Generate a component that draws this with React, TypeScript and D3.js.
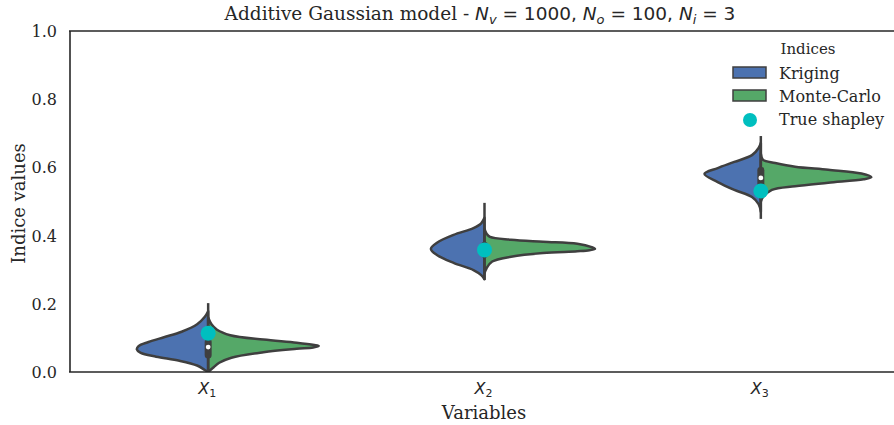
import React from "react";
import * as d3 from "d3";

// ---- data ----
const categories = ["1", "2", "3"];
const seriesNames = ["Kriging", "Monte-Carlo"];
const yTicks = [0, 0.2, 0.4, 0.6, 0.8, 1.0];

// density profiles: [value, relative half-width]
const krigingX1: [number, number][] = [[0.178, 0], [0.162, 0.03], [0.14, 0.1], [0.118, 0.24], [0.102, 0.4], [0.088, 0.54], [0.076, 0.63], [0.066, 0.645], [0.056, 0.61], [0.045, 0.47], [0.033, 0.26], [0.019, 0.1], [0.006, 0.03], [0, 0.0]];
const krigingX2: [number, number][] = [[0.452, 0], [0.436, 0.03], [0.422, 0.1], [0.402, 0.28], [0.379, 0.43], [0.361, 0.485], [0.343, 0.43], [0.32, 0.28], [0.299, 0.1], [0.284, 0.03], [0.272, 0]];
const krigingX3: [number, number][] = [[0.672, 0], [0.657, 0.02], [0.636, 0.08], [0.616, 0.24], [0.598, 0.39], [0.581, 0.51], [0.557, 0.39], [0.534, 0.24], [0.513, 0.08], [0.492, 0.02], [0.47, 0]];
const monteCarloX1: [number, number][] = [[0.16, 0], [0.14, 0.03], [0.124, 0.08], [0.108, 0.2], [0.095, 0.5], [0.086, 0.8], [0.079, 0.96], [0.076, 1.0], [0.072, 0.95], [0.068, 0.8], [0.058, 0.5], [0.042, 0.21], [0.027, 0.1], [0.014, 0.05], [0.003, 0.01], [0, 0]];
const monteCarloX2: [number, number][] = [[0.42, 0], [0.405, 0.02], [0.396, 0.05], [0.388, 0.24], [0.382, 0.53], [0.376, 0.84], [0.366, 0.97], [0.361, 1.0], [0.357, 0.95], [0.354, 0.84], [0.349, 0.53], [0.338, 0.24], [0.324, 0.07], [0.305, 0.02], [0.29, 0]];
const monteCarloX3: [number, number][] = [[0.64, 0], [0.622, 0.02], [0.613, 0.13], [0.602, 0.31], [0.593, 0.61], [0.582, 0.91], [0.571, 1.0], [0.565, 0.93], [0.555, 0.61], [0.545, 0.31], [0.534, 0.1], [0.513, 0.02], [0.5, 0]];

const whiskerLow = [0.0, 0.27, 0.449];
const whiskerHigh = [0.202, 0.496, 0.692];
const boxLow = [0.05, 0.345, 0.543];
const boxHigh = [0.088, 0.372, 0.592];
const medians = [0.073, 0.358, 0.569];
const trueShapley = [0.114, 0.358, 0.531];

const W = 894;
const H = 425;
const BLUE = "#4C72B0";
const GREEN = "#55A868";
const CYAN = "#00BFBF";
const EDGE = "#3f3f3f";
const TEXT = "#262626";
const SERIF = "DejaVu Serif";
const SANS = "DejaVu Sans";

export default function App() {
  const x = d3.scaleBand<string>().domain(categories).range([70, 899]).padding(0);
  const y = d3.scaleLinear().domain([0, 1]).range([372, 31]);
  const half = (x.bandwidth() * 0.8) / 2;
  const wScale = d3.scaleLinear().domain([0, 1]).range([0, half]);

  const kriging = [krigingX1, krigingX2, krigingX3];
  const monteCarlo = [monteCarloX1, monteCarloX2, monteCarloX3];

  const makeArea = (cx: number, dir: number) =>
    d3
      .area<[number, number]>()
      .y((d) => y(d[0]))
      .x0(() => cx)
      .x1((d) => cx + dir * wScale(d[1]))
      .curve(d3.curveCatmullRom.alpha(0.5));

  const center = (c: string) => (x(c) as number) + x.bandwidth() / 2;
  const subFs = 13;

  return (
    <svg width={W} height={H} style={{ display: "block", position: "absolute", left: 0, top: 0 }}>
      <rect x={0} y={0} width={W} height={H} fill="#fff" />
      <defs>
        <clipPath id="plotclip">
          <rect x={70} y={31} width={829} height={341} />
        </clipPath>
      </defs>

      {/* title */}
      <text x={480} y={20} textAnchor="middle" fontSize={18.5} fill={TEXT} fontFamily={SERIF}>
        <tspan>Additive Gaussian model - </tspan>
        <tspan fontFamily={SANS} fontStyle="italic">N</tspan>
        <tspan fontFamily={SANS} fontStyle="italic" fontSize={subFs} dy={3.5}>v</tspan>
        <tspan fontFamily={SANS} dy={-3.5}> = 1000, </tspan>
        <tspan fontFamily={SANS} fontStyle="italic">N</tspan>
        <tspan fontFamily={SANS} fontStyle="italic" fontSize={subFs} dy={3.5}>o</tspan>
        <tspan fontFamily={SANS} dy={-3.5}> = 100, </tspan>
        <tspan fontFamily={SANS} fontStyle="italic">N</tspan>
        <tspan fontFamily={SANS} fontStyle="italic" fontSize={subFs} dy={3.5}>i</tspan>
        <tspan fontFamily={SANS} dy={-3.5}> = 3</tspan>
      </text>

      {/* violins */}
      <g clipPath="url(#plotclip)">
        {categories.map((c, i) => {
          const cx = center(c);
          return (
            <g key={c}>
              <path d={makeArea(cx, -1)(kriging[i]) || ""} fill={BLUE} stroke={EDGE} strokeWidth={2.5} strokeLinejoin="round" />
              <path d={makeArea(cx, 1)(monteCarlo[i]) || ""} fill={GREEN} stroke={EDGE} strokeWidth={2.5} strokeLinejoin="round" />
              <line x1={cx} x2={cx} y1={y(whiskerLow[i])} y2={y(whiskerHigh[i])} stroke={EDGE} strokeWidth={2.5} />
              <line x1={cx} x2={cx} y1={y(boxLow[i])} y2={y(boxHigh[i])} stroke={EDGE} strokeWidth={7} strokeLinecap="round" />
              <circle cx={cx} cy={y(medians[i])} r={2.4} fill="#fff" />
            </g>
          );
        })}
        {categories.map((c, i) => (
          <circle key={"ts" + c} cx={center(c)} cy={y(trueShapley[i])} r={7.5} fill={CYAN} />
        ))}
      </g>

      {/* spines */}
      <line x1={70} x2={70} y1={31} y2={372} stroke={TEXT} strokeWidth={1.6} />
      <line x1={69} x2={899} y1={372} y2={372} stroke={TEXT} strokeWidth={1.6} />
      <line x1={69} x2={899} y1={31} y2={31} stroke={TEXT} strokeWidth={1.6} />

      {/* y ticks */}
      {yTicks.map((t) => (
        <text key={t} x={57} y={y(t) + 6} textAnchor="end" fontSize={16} fill={TEXT} fontFamily={SERIF}>
          {t.toFixed(1)}
        </text>
      ))}
      <text transform={`translate(25,${y(0.5) + 2}) rotate(-90)`} textAnchor="middle" fontSize={18} fill={TEXT} fontFamily={SERIF}>
        Indice values
      </text>

      {/* x ticks */}
      {categories.map((c) => (
        <text key={"xt" + c} x={center(c) - 1} y={394} textAnchor="middle" fontSize={16} fill={TEXT} fontFamily={SANS}>
          <tspan fontStyle="italic">X</tspan>
          <tspan fontSize={11} dy={3}>{c}</tspan>
        </text>
      ))}
      <text x={484} y={419} textAnchor="middle" fontSize={18} fill={TEXT} fontFamily={SERIF}>
        Variables
      </text>

      {/* legend */}
      <text x={808} y={54} textAnchor="middle" fontSize={15} fill={TEXT} fontFamily={SERIF}>
        Indices
      </text>
      {seriesNames.map((s, i) => (
        <g key={s}>
          <rect x={733} y={67 + i * 23} width={33} height={11} fill={i === 0 ? BLUE : GREEN} stroke={EDGE} strokeWidth={1.5} />
          <text x={779} y={79 + i * 23} fontSize={16} fill={TEXT} fontFamily={SERIF}>
            {s}
          </text>
        </g>
      ))}
      <circle cx={750} cy={120} r={7} fill={CYAN} />
      <text x={779} y={125} fontSize={16} fill={TEXT} fontFamily={SERIF}>
        True shapley
      </text>
    </svg>
  );
}
